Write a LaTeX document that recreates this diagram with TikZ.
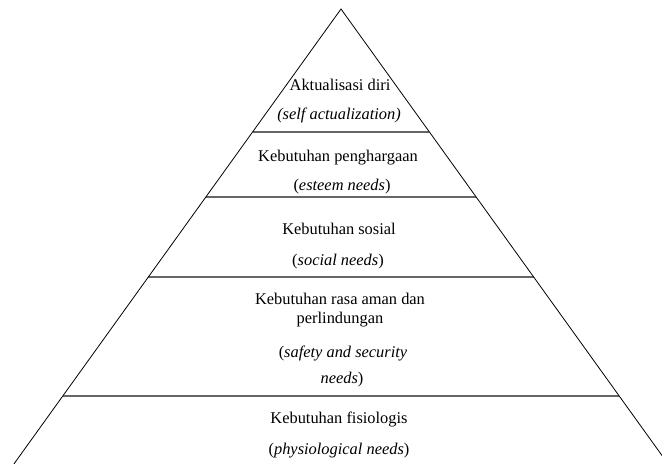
\documentclass[tikz,border=0pt]{standalone}
\usepackage{fontspec}
\setmainfont{Liberation Serif}
\begin{document}
\begin{tikzpicture}[x=1pt,y=-1pt,
  lbl/.style={inner sep=0pt,align=center,font=\fontsize{16.4}{19}\selectfont},
  side/.style={draw=black,line width=0.8pt},
  tier/.style={draw=black!60,line width=1.4pt}]
\useasboundingbox (0,0) rectangle (662,466);
\clip (0,0) rectangle (662,466);
\coordinate (apex) at (341,9);
\coordinate (bl) at (13.9,464);
\coordinate (br) at (668.1,464);
\coordinate (l1) at (252.6,132); \coordinate (r1) at (429.4,132);
\coordinate (l2) at (205.8,197); \coordinate (r2) at (476.2,197);
\coordinate (l3) at (148.3,277); \coordinate (r3) at (533.7,277);
\coordinate (l4) at (62.7,396);  \coordinate (r4) at (619.3,396);
\draw[tier] (l1) -- (r1);
\draw[tier] (l2) -- (r2);
\draw[tier] (l3) -- (r3);
\draw[tier] (l4) -- (r4);
\draw[side] (bl) -- (apex) -- (br);
\node[lbl] (t1a) at (340,85) {Aktualisasi diri};
\node[lbl] (t1b) at (339,115) {\textit{(self actualization)}};
\node[lbl] (t2a) at (338,158) {Kebutuhan penghargaan};
\node[lbl] (t2b) at (342,187) {(\textit{esteem needs})};
\node[lbl] (t3a) at (339,229) {Kebutuhan sosial};
\node[lbl] (t3b) at (338,262) {(\textit{social needs})};
\node[lbl] (t4a) at (340,310.5) {Kebutuhan rasa aman dan\\perlindungan};
\node[lbl] (t4b) at (343,353) {(\textit{safety and security}};
\node[lbl] (t4c) at (342,380) {\textit{needs})};
\node[lbl] (t5a) at (339,419) {Kebutuhan fisiologis};
\node[lbl] (t5b) at (339,451) {(\textit{physiological needs})};
\end{tikzpicture}
\end{document}
